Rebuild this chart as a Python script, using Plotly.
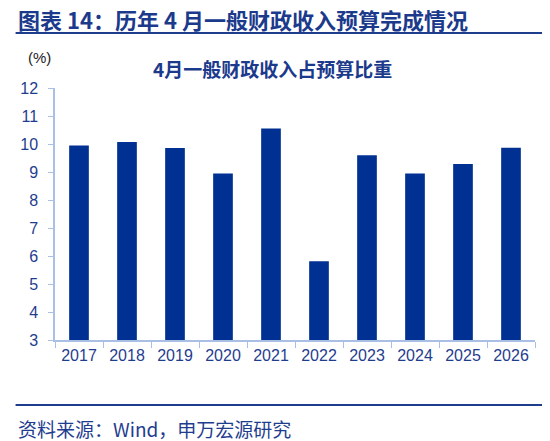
import plotly.graph_objs as go

years = ["2017", "2018", "2019", "2020", "2021", "2022", "2023", "2024", "2025", "2026"]
share = [9.95, 10.07, 9.86, 8.95, 10.55, 5.81, 9.60, 8.95, 9.29, 9.87]
ytick_vals = [3, 4, 5, 6, 7, 8, 9, 10, 11, 12]

main_title = "图表 14：历年 4 月一般财政收入预算完成情况"
chart_title = "4月一般财政收入占预算比重"
source_text = "资料来源：Wind，申万宏源研究"

blue = "#003192"
text_blue = "#1f3d8f"
axis_blue = "#a9c0e4"
cjk = "Noto Sans CJK SC"
num_font = "Liberation Sans, Arial"

# page has an 8px body margin, so figure coords = screen coords - 8
# plot area on screen: x 48..535, y 88..340
W, H = 542, 433
L, T = 40, 80
R, B = W - 527, H - 332
pw = W - L - R
ph = H - T - B


def px(x):
    return (x - 8 - L) / pw


def py(y):
    return (H - B - (y - 8)) / ph


fig = go.Figure()
fig.add_trace(go.Bar(x=years, y=share, marker=dict(color=blue, line=dict(width=0)), width=0.41))

fig.update_layout(
    width=W, height=H,
    margin=dict(l=L, r=R, t=T, b=B),
    paper_bgcolor="white", plot_bgcolor="white",
    showlegend=False,
    xaxis=dict(
        showline=True, linecolor=axis_blue, linewidth=1.5,
        ticks="outside", ticklen=6, tickcolor=axis_blue, tickson="boundaries",
        tickfont=dict(family=num_font, size=16, color=text_blue),
        showgrid=False,
    ),
    yaxis=dict(
        range=[3, 12], tickvals=ytick_vals,
        showline=True, linecolor=axis_blue, linewidth=1.5,
        ticks="outside", ticklen=5, tickcolor=axis_blue, ticklabelstandoff=7,
        tickfont=dict(family=num_font, size=16, color=text_blue),
        showgrid=False, zeroline=False,
    ),
)

# header / footer rules
fig.add_shape(type="line", xref="paper", yref="paper", x0=px(8), x1=px(550), y0=py(33), y1=py(33),
              line=dict(color="#1f3d8f", width=2))
fig.add_shape(type="line", xref="paper", yref="paper", x0=px(8), x1=px(550), y0=py(405), y1=py(405),
              line=dict(color="#1f3d8f", width=2))

fig.add_annotation(text="<b>" + main_title + "</b>", xref="paper", yref="paper", x=px(8), y=py(19),
                   xanchor="left", yanchor="middle", showarrow=False,
                   font=dict(family=cjk, size=22, color="#1b3a8c"))
fig.add_annotation(text="<b>" + chart_title + "</b>", xref="paper", yref="paper", x=px(269), y=py(68),
                   xanchor="center", yanchor="middle", showarrow=False,
                   font=dict(family=cjk, size=19, color="#1b3a8c"))
fig.add_annotation(text="(%)", xref="paper", yref="paper", x=px(32), y=py(57),
                   xanchor="center", yanchor="middle", showarrow=False,
                   font=dict(family=num_font, size=15, color="#222222"))
fig.add_annotation(text=source_text, xref="paper", yref="paper", x=px(8), y=py(428),
                   xanchor="left", yanchor="middle", showarrow=False,
                   font=dict(family=cjk, size=19, color=text_blue))

fig.write_html("out.html")
